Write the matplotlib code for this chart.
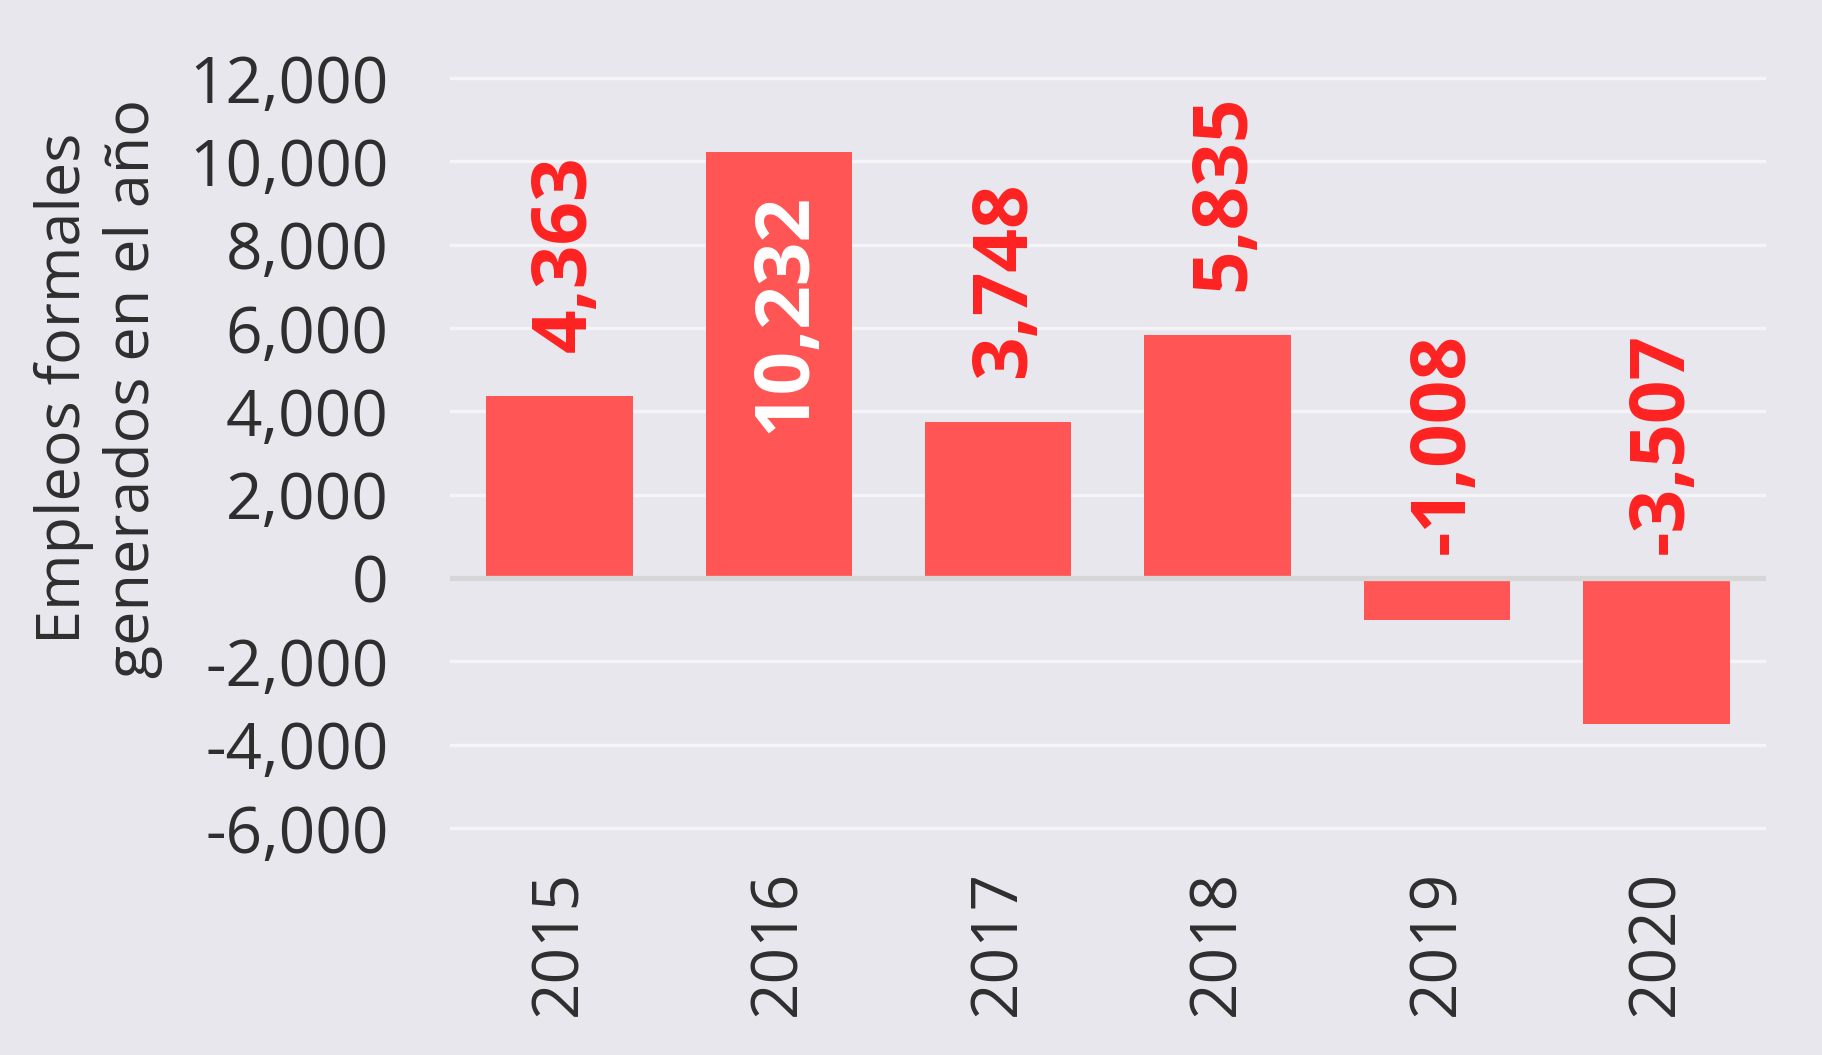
import matplotlib
matplotlib.use("Agg")
import matplotlib.pyplot as plt
import matplotlib.transforms as mtransforms
from matplotlib.ticker import FuncFormatter

years = ["2015", "2016", "2017", "2018", "2019", "2020"]
empleos = [4363, 10232, 3748, 5835, -1008, -3507]
yticks = [-6000, -4000, -2000, 0, 2000, 4000, 6000, 8000, 10000, 12000]

BG = "#E8E7EE"
BAR = "#FF5555"
LBL = "#FF2222"
TXT = "#2E2E2E"

plt.rcParams['font.family'] = ['Open Sans', 'DejaVu Sans']

fig = plt.figure(figsize=(18.22, 10.55), dpi=100, facecolor=BG)
ax = fig.add_axes([0.2468, 0.2033, 0.7226, 0.7346], facecolor=BG)

x = list(range(len(years)))
ax.bar(x, empleos, width=0.667, color=BAR, zorder=2)

ax.set_xlim(-0.5, 5.5)
ax.set_ylim(-6300, 12300)
ax.set_yticks(yticks)
ax.yaxis.set_major_formatter(FuncFormatter(lambda v, p: f"{int(v):,}"))
ax.set_xticks(x)
ax.set_xticklabels(years, rotation=90)

for s in ax.spines.values():
    s.set_visible(False)
ax.grid(axis='y', color="#F5F5F7", linewidth=2.4, zorder=0)
ax.grid(axis='x', visible=False)
ax.axhline(0, color="#D6D6D6", linewidth=3.8, zorder=3)

ax.tick_params(axis='y', length=0, pad=44, labelsize=46, labelcolor=TXT)
ax.tick_params(axis='x', length=0, pad=21, labelsize=46, labelcolor=TXT)

shift = mtransforms.offset_copy(ax.transData, fig=fig, x=5, y=0, units='points')

for xi, v in zip(x, empleos):
    label = f"{v:,}"
    if v > 9000:
        ax.text(xi, 3490, label, rotation=90, ha='center', va='bottom',
                color='white', fontsize=55, fontweight='bold', zorder=4,
                transform=shift)
    elif v >= 0:
        ax.text(xi, v + 1060, label, rotation=90, ha='center', va='bottom',
                color=LBL, fontsize=55, fontweight='bold', zorder=4,
                transform=shift)
    else:
        ax.text(xi, 570, label, rotation=90, ha='center', va='bottom',
                color=LBL, fontsize=55, fontweight='bold', zorder=4,
                transform=shift)

fig.text(0.0541, 0.632, "Empleos formales\ngenerados en el año", rotation=90,
         ha='center', va='center', multialignment='center', fontsize=44,
         color=TXT, linespacing=1.2)

fig.savefig("out.png", dpi=100, facecolor=BG)
